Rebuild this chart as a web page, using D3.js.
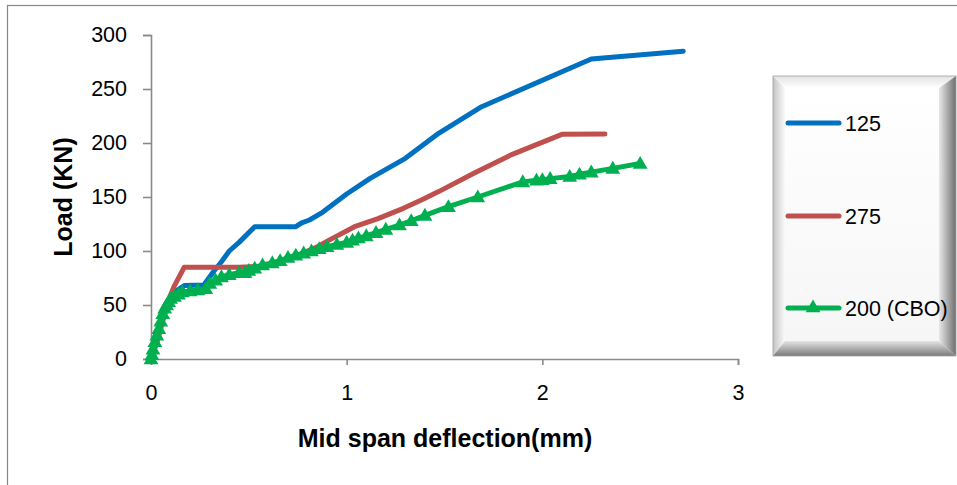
<!DOCTYPE html>
<html>
<head>
<meta charset="utf-8">
<script src="https://cdn.jsdelivr.net/npm/d3@7"></script>
<style>
  html, body { margin: 0; padding: 0; background: #fff; }
  svg { display: block; font-family: "Liberation Sans", Arial, sans-serif; }
</style>
</head>
<body>
<svg id="chart" width="957" height="485"></svg>
<script>
// ---- Data ----
const xTicks = [0, 1, 2, 3];
const yTicks = [0, 50, 100, 150, 200, 250, 300];
const seriesNames = ["125", "275", "200 (CBO)"];
const seriesColors = ["#0070C0", "#C0504D", "#00B050"];

const s125x = [0, 0.04, 0.08, 0.12, 0.17, 0.27, 0.32, 0.36, 0.40, 0.45, 0.53, 0.74, 0.77, 0.81, 0.87, 1.0, 1.12, 1.3, 1.47, 1.69, 2.25, 2.72];
const s125y = [0, 25, 48, 62, 68, 68.5, 81, 90, 100, 108, 122.5, 122.5, 126, 128.7, 135, 152.8, 167.3, 185.8, 209, 233.6, 277.8, 285];

const s275x = [0, 0.03, 0.06, 0.09, 0.12, 0.17, 0.3, 0.45, 0.58, 0.65, 0.75, 0.85, 0.92, 1.04, 1.16, 1.29, 1.39, 1.47, 1.65, 1.84, 2.1, 2.32];
const s275y = [0, 15, 35, 55, 68, 85, 85, 85, 86, 90, 96, 104, 111, 122.5, 130, 139.5, 148, 155, 172, 189, 208, 208.3];

const s200x = [0, 0.005, 0.01, 0.02, 0.03, 0.04, 0.05, 0.06, 0.07, 0.08, 0.09, 0.1, 0.12, 0.14, 0.16, 0.2, 0.24, 0.28, 0.3, 0.33, 0.36, 0.4, 0.45, 0.48, 0.5, 0.53, 0.57, 0.62, 0.66, 0.7, 0.74, 0.78, 0.82, 0.86, 0.9, 0.95, 1.0, 1.03, 1.06, 1.1, 1.15, 1.2, 1.27, 1.33, 1.4, 1.52, 1.67, 1.9, 1.97, 2.0, 2.04, 2.14, 2.19, 2.25, 2.36, 2.5];
const s200y = [0, 4, 9, 16, 22, 28, 35, 42, 47, 50, 53, 56, 58, 60, 62, 63, 64, 65, 70, 73, 76, 78, 80, 80, 82, 84, 87, 89, 91, 94, 96, 98, 100, 102, 104, 106, 108, 110, 112, 114, 117, 120, 124, 128, 133, 141, 150, 164, 165.5, 166, 167, 169, 171, 173, 176.5, 181];

const series = [
  { name: seriesNames[0], color: seriesColors[0], pts: s125x.map((d, i) => [d, s125y[i]]), marker: false },
  { name: seriesNames[1], color: seriesColors[1], pts: s275x.map((d, i) => [d, s275y[i]]), marker: false },
  { name: seriesNames[2], color: seriesColors[2], pts: s200x.map((d, i) => [d, s200y[i]]), marker: true }
];

// ---- Drawing ----
const svg = d3.select("#chart");
const defs = svg.append("defs");

// outer frame (cropped on right/bottom)
svg.append("rect").attr("x", 7.5).attr("y", 5.5).attr("width", 1000).attr("height", 600)
  .attr("fill", "none").attr("stroke", "#888").attr("stroke-width", 1.2);

const x = d3.scaleLinear().domain([0, 3]).range([151, 738]);
const y = d3.scaleLinear().domain([0, 300]).range([359, 35]);

const axisColor = "#8a8a8a";

// Y axis
const gy = svg.append("g").attr("transform", `translate(${x(0)},0)`)
  .call(d3.axisLeft(y).tickValues(yTicks).tickSize(8).tickPadding(16).tickFormat(d3.format("d")));
gy.select(".domain").attr("stroke", axisColor).attr("stroke-width", 1.6);
gy.selectAll(".tick line").attr("stroke", axisColor).attr("stroke-width", 1.6);
gy.selectAll(".tick text").attr("font-size", 21.5).attr("fill", "#000")
  .attr("font-family", "'Liberation Sans', Arial, sans-serif");

// X axis
const gx = svg.append("g").attr("transform", `translate(0,${y(0)})`)
  .call(d3.axisBottom(x).tickValues(xTicks).tickSize(6).tickPadding(20).tickFormat(d3.format("d")));
gx.select(".domain").attr("stroke", axisColor).attr("stroke-width", 1.6);
gx.selectAll(".tick line").attr("stroke", axisColor).attr("stroke-width", 1.6);
gx.selectAll(".tick text").attr("font-size", 21.5).attr("fill", "#000")
  .attr("font-family", "'Liberation Sans', Arial, sans-serif");

// Axis titles
svg.append("text").attr("x", 445).attr("y", 447).attr("text-anchor", "middle")
  .attr("font-size", 25).attr("font-weight", "bold").text("Mid span deflection(mm)");
svg.append("text").attr("transform", "translate(72,197) rotate(-90)").attr("text-anchor", "middle")
  .attr("font-size", 25).attr("font-weight", "bold").text("Load (KN)");

// Lines
const line = d3.line().x(d => x(d[0])).y(d => y(d[1]));
const tri = d3.symbol().type(d3.symbolTriangle).size(95);

series.forEach(s => {
  svg.append("path").datum(s.pts).attr("d", line)
    .attr("fill", "none").attr("stroke", s.color).attr("stroke-width", 5)
    .attr("stroke-linejoin", "round").attr("stroke-linecap", "round");
  if (s.marker) {
    svg.append("g").selectAll("path").data(s.pts).join("path")
      .attr("d", tri).attr("transform", d => `translate(${x(d[0])},${y(d[1]) + 1})`)
      .attr("fill", s.color);
  }
});

// ---- Legend with bevel ----
const L = { x0: 773, y0: 76, x1: 956, y1: 356 };
const bw = { l: 12, t: 12, r: 17, b: 15 };
function grad(id, x1, y1, x2, y2, c1, c2) {
  const g = defs.append("linearGradient").attr("id", id)
    .attr("x1", x1).attr("y1", y1).attr("x2", x2).attr("y2", y2);
  g.append("stop").attr("offset", "0%").attr("stop-color", c1);
  g.append("stop").attr("offset", "100%").attr("stop-color", c2);
}
grad("gL", "0", "0", "1", "0", "#c4c4c4", "#fafafa");
grad("gT", "0", "0", "0", "1", "#e2e2e2", "#ffffff");
grad("gR", "1", "0", "0", "0", "#6e6e6e", "#e8e8e8");
grad("gB", "0", "1", "0", "0", "#7a7a7a", "#e4e4e4");
grad("gF", "0", "0", "0", "1", "#ffffff", "#f6f6f6");

const ix0 = L.x0 + bw.l, iy0 = L.y0 + bw.t, ix1 = L.x1 - bw.r, iy1 = L.y1 - bw.b;
const lg = svg.append("g");
lg.append("rect").attr("x", ix0).attr("y", iy0).attr("width", ix1 - ix0).attr("height", iy1 - iy0).attr("fill", "url(#gF)");
lg.append("polygon").attr("points", `${L.x0},${L.y0} ${ix0},${iy0} ${ix0},${iy1} ${L.x0},${L.y1}`).attr("fill", "url(#gL)");
lg.append("polygon").attr("points", `${L.x0},${L.y0} ${L.x1},${L.y0} ${ix1},${iy0} ${ix0},${iy0}`).attr("fill", "url(#gT)");
lg.append("polygon").attr("points", `${L.x1},${L.y0} ${L.x1},${L.y1} ${ix1},${iy1} ${ix1},${iy0}`).attr("fill", "url(#gR)");
lg.append("polygon").attr("points", `${L.x0},${L.y1} ${L.x1},${L.y1} ${ix1},${iy1} ${ix0},${iy1}`).attr("fill", "url(#gB)");
lg.append("rect").attr("x", L.x0).attr("y", L.y0).attr("width", L.x1 - L.x0).attr("height", L.y1 - L.y0)
  .attr("fill", "none").attr("stroke", "#a0a0a0").attr("stroke-width", 0.8);

const legendY = [123, 216, 308];
series.forEach((s, i) => {
  const gy2 = legendY[i];
  lg.append("line").attr("x1", 788).attr("x2", 839).attr("y1", gy2).attr("y2", gy2)
    .attr("stroke", s.color).attr("stroke-width", 5).attr("stroke-linecap", "round");
  if (s.marker) {
    lg.append("path").attr("d", tri).attr("transform", `translate(813,${gy2})`).attr("fill", s.color);
  }
  lg.append("text").attr("x", 845).attr("y", gy2).attr("dy", "0.36em")
    .attr("font-size", 21.5).attr("fill", "#000").text(s.name);
});
</script>
</body>
</html>
